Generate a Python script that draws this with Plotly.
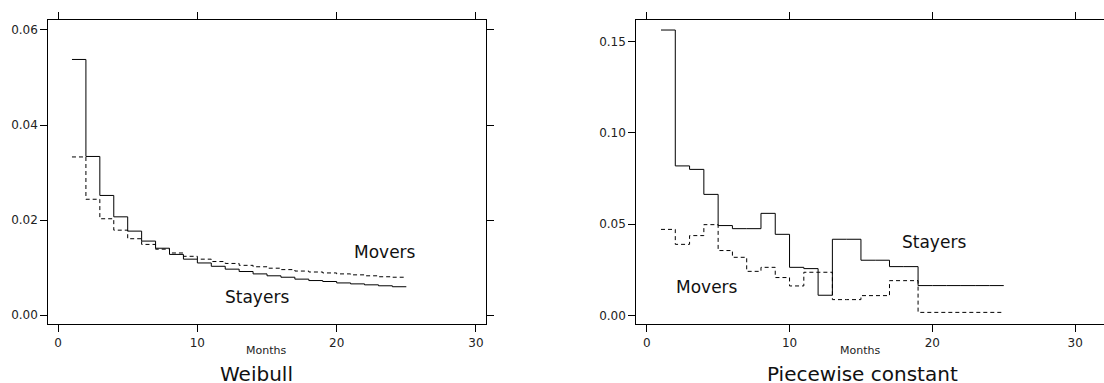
import plotly.graph_objects as go

# ---- data ----
months = [1, 2, 3, 4, 5, 6, 7, 8, 9, 10, 11, 12, 13, 14, 15, 16, 17, 18, 19, 20, 21, 22, 23, 24, 25]

weibull_stayers = [0.0538, 0.0334, 0.0252, 0.0207, 0.0177, 0.0156, 0.0141, 0.0128, 0.0118,
                   0.0110, 0.0103, 0.0097, 0.0092, 0.0087, 0.0083, 0.0080, 0.0076, 0.0073,
                   0.0071, 0.0068, 0.0066, 0.0064, 0.0062, 0.0060]
weibull_movers = [0.0333, 0.0244, 0.0203, 0.0179, 0.0161, 0.0149, 0.0139, 0.0131, 0.0124,
                  0.0118, 0.0113, 0.0109, 0.0105, 0.0102, 0.0099, 0.0096, 0.0093, 0.0091,
                  0.0089, 0.0087, 0.0085, 0.0083, 0.0081, 0.0080]

pc_stayers = [0.1564, 0.0819, 0.0800, 0.0663, 0.0492, 0.0475, 0.0475, 0.0559, 0.0444,
              0.0263, 0.0256, 0.0110, 0.0417, 0.0417, 0.0302, 0.0302, 0.0267, 0.0267,
              0.0163, 0.0163, 0.0163, 0.0163, 0.0163, 0.0163]
pc_movers = [0.0471, 0.0389, 0.0437, 0.0497, 0.0355, 0.0318, 0.0241, 0.0263, 0.0207,
             0.0161, 0.0236, 0.0236, 0.0086, 0.0086, 0.0108, 0.0108, 0.0190, 0.0190,
             0.0016, 0.0016, 0.0016, 0.0016, 0.0016, 0.0016]

x_ticks = [0, 10, 20, 30]
left_y_ticks = [0.00, 0.02, 0.04, 0.06]
right_y_ticks = [0.00, 0.05, 0.10, 0.15]
panel_titles = ["Weibull", "Piecewise constant"]
x_label = "Months"

# canvas is a little wider than the window so the right panel's frame runs off the edge
W, H = 1124, 383
FONT = "DejaVu Sans"

def px_x(p):
    return p / W

def px_y(p):
    return 1 - p / H

fig = go.Figure()

def step(xs, vals, xa, ya, dash):
    fig.add_trace(go.Scatter(
        x=xs, y=vals + [vals[-1]], mode="lines", line_shape="hv",
        line=dict(color="black", width=1, dash=dash),
        xaxis=xa, yaxis=ya, showlegend=False, hoverinfo="skip"))

step(months, weibull_stayers, "x", "y", "solid")
step(months, weibull_movers, "x", "y", "4px,3px")
step(months, pc_stayers, "x2", "y2", "solid")
step(months, pc_movers, "x2", "y2", "4px,3px")

tickfont = dict(family=FONT, size=12, color="#222")
common_x = dict(tickvals=x_ticks, ticks="outside", ticklen=7, tickwidth=1, tickcolor="black",
                showline=True, linecolor="black", linewidth=1, showgrid=False, zeroline=False,
                mirror="ticks", tickfont=tickfont, fixedrange=True)
common_y = dict(ticks="outside", ticklen=7, tickwidth=1, tickcolor="black",
                showline=True, linecolor="black", linewidth=1, showgrid=False, zeroline=False,
                tickformat=".2f", tickfont=tickfont, fixedrange=True)

ydom = [px_y(324.3), px_y(20)]

fig.update_layout(
    width=W, height=H, margin=dict(l=0, r=0, t=0, b=0),
    paper_bgcolor="white", plot_bgcolor="white",
    font=dict(family=FONT, color="#222"),
    xaxis=dict(domain=[px_x(48.3), px_x(486)], range=[-0.70, 30.72], anchor="y", **common_x),
    yaxis=dict(domain=ydom, range=[-0.0019, 0.0621], tickvals=left_y_ticks, anchor="x",
               mirror="ticks", **common_y),
    xaxis2=dict(domain=[px_x(636.3), px_x(1118)], range=[-0.73, 33.0], anchor="y2", **common_x),
    yaxis2=dict(domain=ydom, range=[-0.00493, 0.1619], tickvals=right_y_ticks, anchor="x2",
                mirror=False, **common_y),
)

ann = []
# series labels
lab = dict(family=FONT, size=17, color="#111")
ann.append(dict(x=23.5, y=0.0133, xref="x", yref="y", text="Movers", showarrow=False, font=lab))
ann.append(dict(x=14.3, y=0.0039, xref="x", yref="y", text="Stayers", showarrow=False, font=lab))
ann.append(dict(x=20.1, y=0.0400, xref="x2", yref="y2", text="Stayers", showarrow=False, font=lab))
ann.append(dict(x=4.2, y=0.0157, xref="x2", yref="y2", text="Movers", showarrow=False, font=lab))

# axis labels & panel titles
for cx in (266.0, 860.0):
    ann.append(dict(x=px_x(cx), y=px_y(350.5), xref="paper", yref="paper", text=x_label,
                    showarrow=False, font=dict(family=FONT, size=11, color="#222"),
                    xanchor="center", yanchor="middle"))
for cx, t in zip((256.5, 862.5), panel_titles):
    ann.append(dict(x=px_x(cx), y=px_y(373.5), xref="paper", yref="paper", text=t,
                    showarrow=False, font=dict(family=FONT, size=20, color="#111"),
                    xanchor="center", yanchor="middle"))

fig.update_layout(annotations=ann)
fig.write_html(
    "out.html",
    config={"displayModeBar": False},
    post_script="document.body.style.margin='0';document.body.style.padding='0';"
                "document.body.style.overflow='hidden';",
)
